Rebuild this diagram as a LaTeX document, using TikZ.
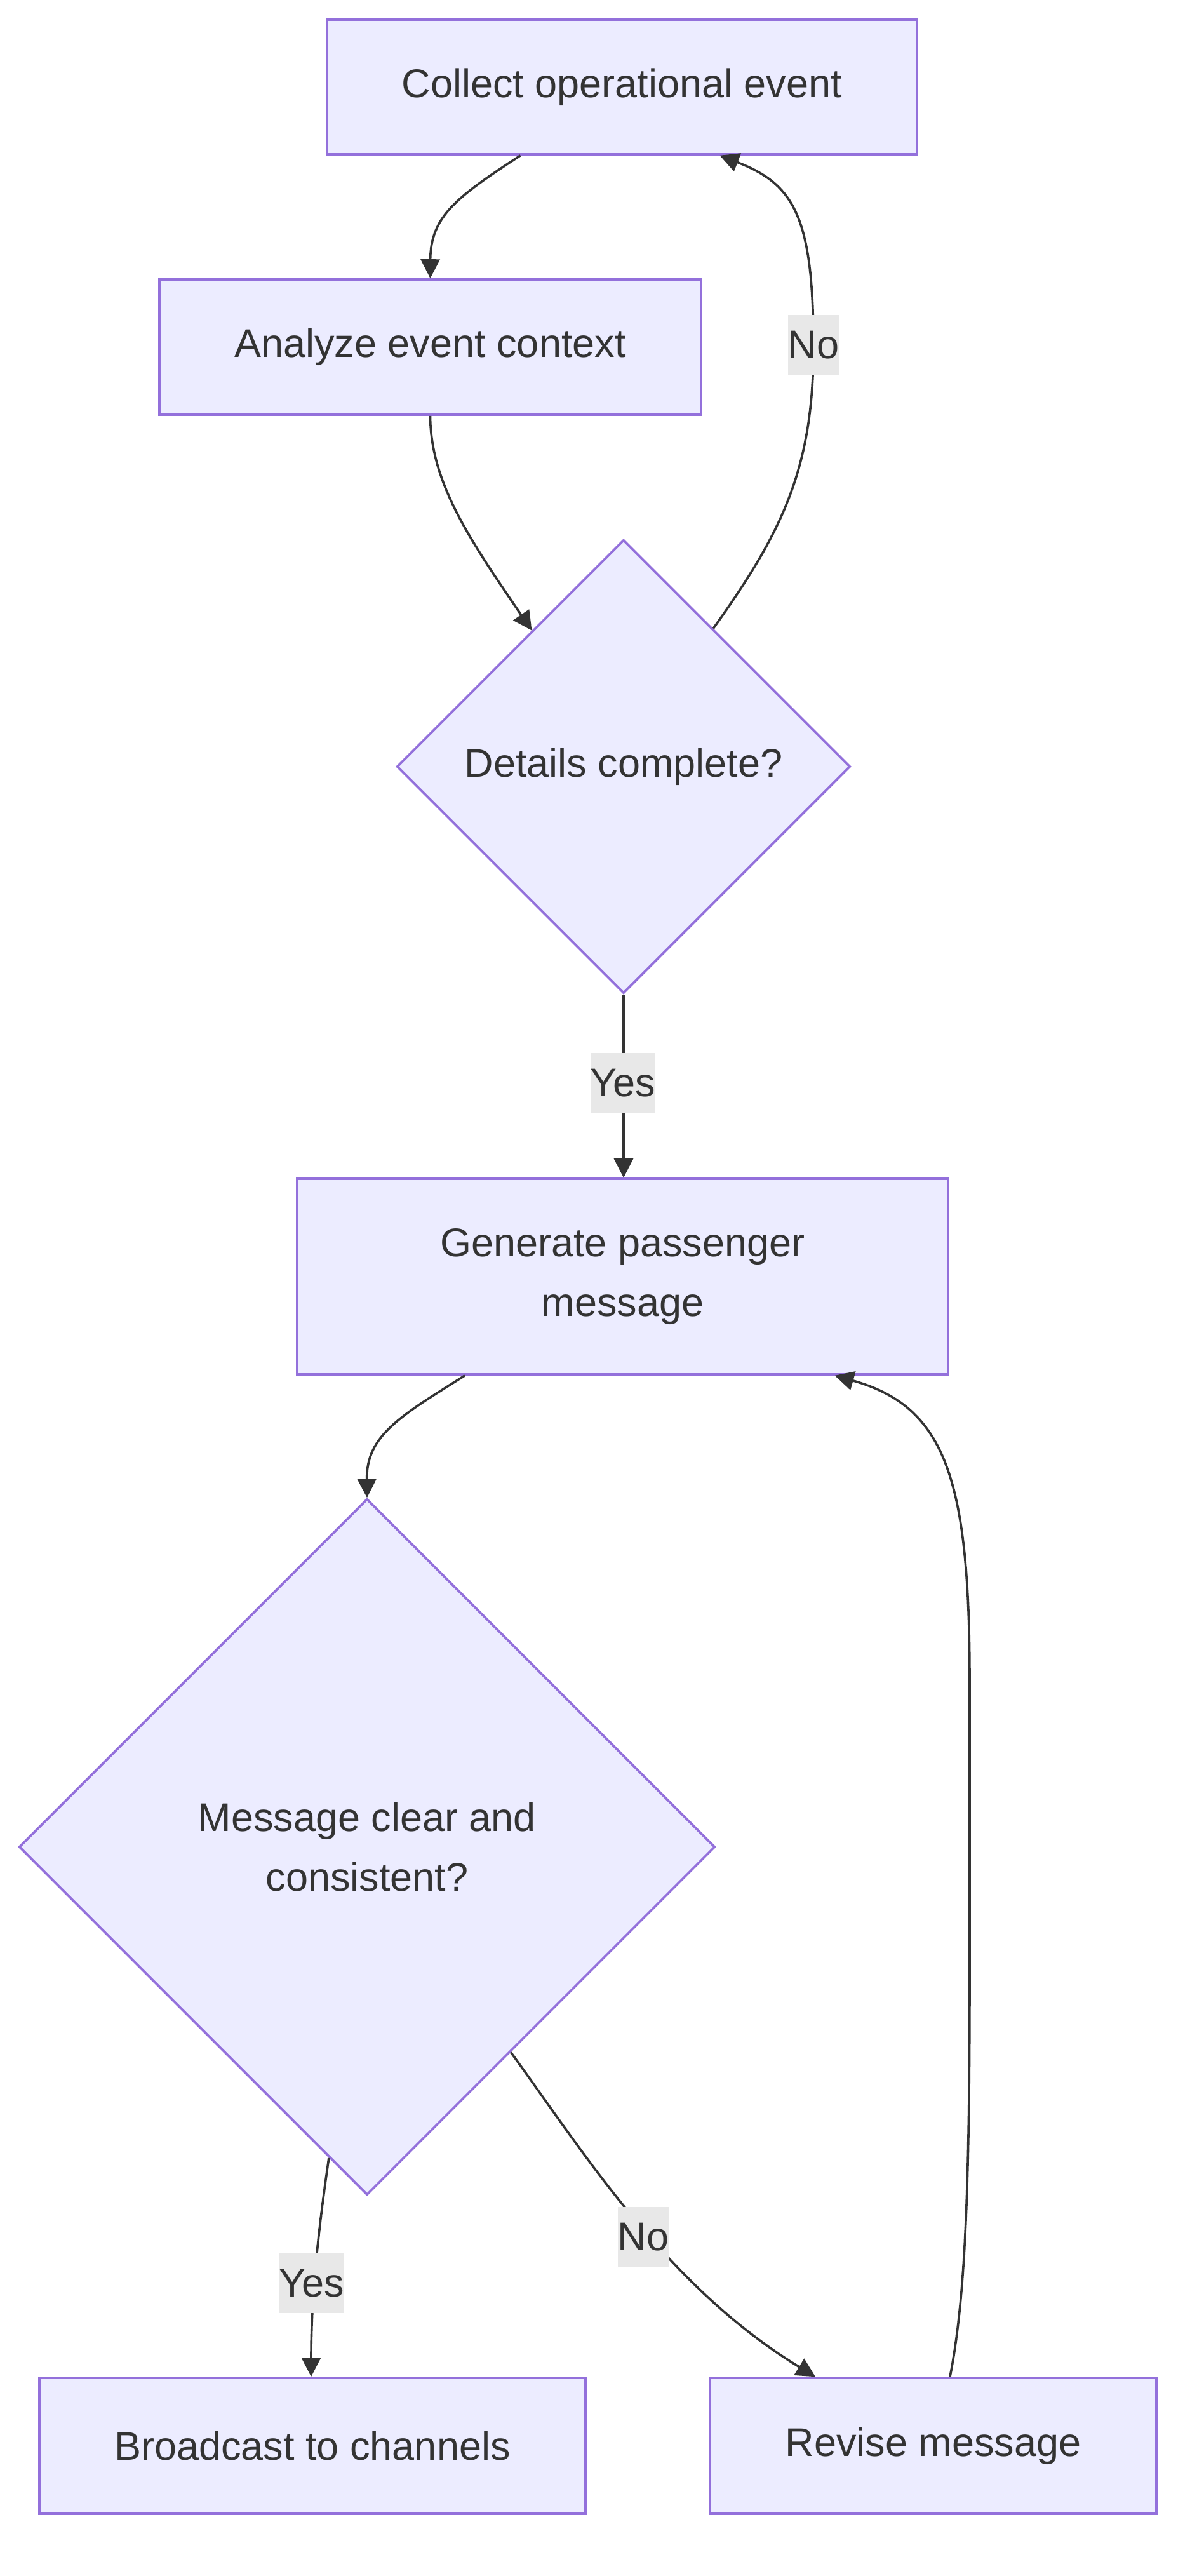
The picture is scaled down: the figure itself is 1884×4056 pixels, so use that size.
\documentclass[tikz,border=0pt]{standalone}
\usepackage{fontspec}
\setmainfont{Liberation Sans}
\usetikzlibrary{shapes.geometric,arrows.meta}
\definecolor{nodefill}{HTML}{ECECFF}
\definecolor{nodeline}{HTML}{9370DB}
\definecolor{edgecol}{HTML}{333333}
\definecolor{labelbg}{HTML}{E8E8E8}
\begin{document}
\begin{tikzpicture}[x=0.5pt,y=-0.5pt,
  font=\fontsize{31.5}{47}\selectfont,
  box/.style={draw=nodeline,fill=nodefill,line width=1.8pt,text=edgecol,inner sep=0pt,align=center},
  dec/.style={diamond,aspect=1,draw=nodeline,fill=nodefill,line width=1.8pt,text=edgecol,inner sep=0pt,align=center},
  conn/.style={draw=edgecol,line width=1.8pt,-{Triangle[length=15pt,width=15pt]}},
  elabel/.style={fill=labelbg,text=edgecol,inner sep=0pt,minimum height=47pt}
]
\useasboundingbox (0,0) rectangle (1884,4056);
\fill[white] (0,0) rectangle (1884,4056);

\node[box,minimum width=464.5pt,minimum height=106pt] (collect) at (979.5,137) {Collect operational event};
\node[box,minimum width=426.5pt,minimum height=106.5pt] (analyze) at (677.5,546.5) {Analyze event context};
\node[dec,minimum width=357pt,minimum height=357pt] (d1) at (982,1207) {Details complete?};
\node[box,minimum width=512.5pt,minimum height=154pt] (generate) at (980.5,2010) {Generate passenger\\message};
\node[dec,minimum width=548pt,minimum height=548pt] (d2) at (578,2908) {Message clear and\\consistent?};
\node[box,minimum width=430pt,minimum height=107pt] (broadcast) at (492,3851) {Broadcast to channels};
\node[box,minimum width=351.5pt,minimum height=107pt] (revise) at (1469.5,3851) {Revise message};

% edges
\draw[conn] ([xshift=-80pt]collect.south) .. controls (720,310) and (678,340) .. (analyze.north);
\draw[conn] (analyze.south) .. controls (678,760) and (740,850) .. (d1.124);
\draw[conn] (d1.57) .. controls (1230,840) and (1281,740) .. (1281,547)
  .. controls (1281,340) and (1250,290) .. ([xshift=77pt]collect.south);
\draw[conn] (d1.south) -- (d1.south |- generate.north);
\draw[conn] ([xshift=-124.25pt]generate.south) .. controls (630,2230) and (577,2260) .. (d2.north);
\draw[conn] (d2.-97) .. controls (500,3520) and (490,3620) .. (broadcast.north -| 490,0);
\draw[conn] (d2.-55) .. controls (920,3390) and (1050,3600) .. ([xshift=-92.75pt]revise.north);
\draw[conn] ([xshift=13.25pt]revise.north) .. controls (1520,3620) and (1527,3450) .. (1527,3100)
  -- (1527,2650) .. controls (1527,2330) and (1490,2215) .. ([xshift=167pt]generate.south);

% edge labels
\node[elabel] (lno1) at (1281,543) {No};
\node[elabel] (lyes1) at (981,1705) {Yes};
\node[elabel] (lyes2) at (491,3595) {Yes};
\node[elabel] (lno2) at (1013,3522) {No};
\end{tikzpicture}
\end{document}
